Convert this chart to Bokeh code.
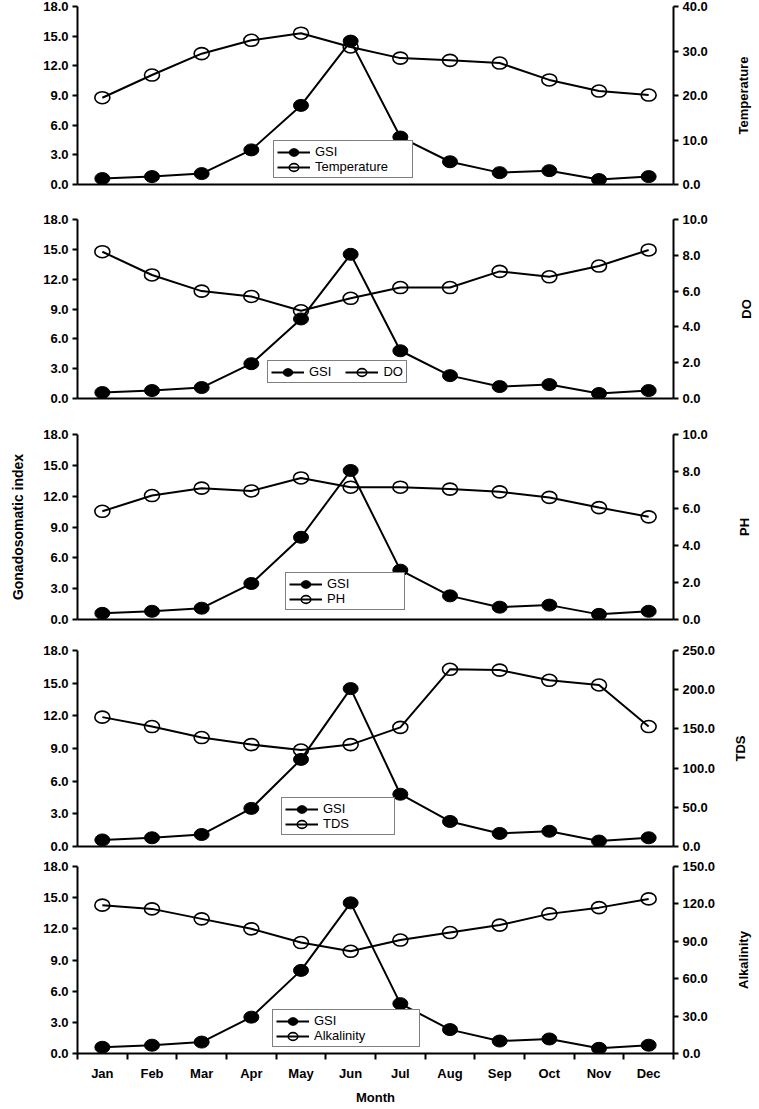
import math
from bokeh.plotting import figure
from bokeh.models import (Range1d, LinearAxis, FixedTicker, PrintfTickFormatter,
                          Legend, LegendItem, Label)
from bokeh.layouts import column, row
from bokeh.embed import file_html
from bokeh.resources import INLINE

# ---------------- data ----------------
months = ["Jan", "Feb", "Mar", "Apr", "May", "Jun",
          "Jul", "Aug", "Sep", "Oct", "Nov", "Dec"]
gsi = [0.6, 0.8, 1.1, 3.5, 8.0, 14.5, 4.8, 2.3, 1.2, 1.4, 0.5, 0.8]
temperature = [19.5, 24.6, 29.4, 32.4, 34.0, 30.9, 28.4, 27.9, 27.3, 23.5, 21.0, 20.1]
do_vals = [8.2, 6.9, 6.0, 5.7, 4.9, 5.6, 6.2, 6.2, 7.1, 6.8, 7.4, 8.3]
ph = [5.85, 6.7, 7.1, 6.95, 7.65, 7.15, 7.15, 7.05, 6.9, 6.6, 6.05, 5.55]
tds = [165, 153, 139, 130, 123, 130, 152, 226, 225, 212, 206, 153]
alkalinity = [119, 116, 108, 100, 89, 82, 91, 97, 103, 112, 117, 124]

gsi_ticks = [0, 3, 6, 9, 12, 15, 18]
param_names = ["Temperature", "DO", "PH", "TDS", "Alkalinity"]
param_values = [temperature, do_vals, ph, tds, alkalinity]
param_ticks = [[0, 10, 20, 30, 40],
               [0, 2, 4, 6, 8, 10],
               [0, 2, 4, 6, 8, 10],
               [0, 50, 100, 150, 200, 250],
               [0, 30, 60, 90, 120, 150]]

# ---------------- layout / style ----------------
FONT = "Liberation Sans"
FRAME_W = 596
# (border_top, frame_height, border_bottom)
geom = [(6, 178, 27), (8, 179, 28), (8, 185, 23), (8, 196, 12), (8, 187, 50)]
# legend: (left offset, bottom gap, orientation, label_width, spacing)
leg_cfg = [(196, 6, "vertical", 94, 0),
           (190, 15, "horizontal", 20, 14),
           (208, 9, "vertical", 74, 0),
           (204, 11, "vertical", 68, 0),
           (195, 6, "vertical", 102, 0)]
LAB_W = 28
right_label_x = [14, 17, 15, 11, 14]

x = [i + 0.5 for i in range(len(months))]


def style_axis(ax):
    ax.axis_line_width = 2
    ax.axis_line_color = "black"
    ax.major_tick_line_width = 2
    ax.major_tick_in = 0
    ax.major_tick_out = 5
    ax.minor_tick_line_color = None
    ax.major_label_text_font = FONT
    ax.major_label_text_font_style = "bold"
    ax.major_label_text_font_size = "13px"
    ax.major_label_text_color = "black"
    ax.major_label_standoff = 4
    ax.axis_label_text_font = FONT
    ax.axis_label_text_font_style = "bold"
    ax.axis_label_text_font_size = "13px"
    ax.axis_label_text_color = "black"


rows = []
n = len(param_names)
for k in range(n):
    bt, fh, bb = geom[k]
    last = (k == n - 1)
    p = figure(frame_width=FRAME_W, frame_height=fh,
               x_range=Range1d(0, len(months)), y_range=Range1d(0, 18),
               output_backend="svg", toolbar_location=None,
               min_border_left=77, min_border_right=56,
               min_border_top=bt, min_border_bottom=bb,
               background_fill_color="white", border_fill_color="white")
    p.grid.visible = False
    p.outline_line_color = None

    # left axis (GSI)
    ya = p.yaxis[0]
    ya.ticker = FixedTicker(ticks=gsi_ticks)
    ya.formatter = PrintfTickFormatter(format="%.1f")
    style_axis(ya)
    if k == 2:
        ya.axis_label = "Gonadosomatic index"
        ya.axis_label_text_font_size = "14px"
        ya.axis_label_standoff = 14

    # bottom axis
    xa = p.xaxis[0]
    style_axis(xa)
    if last:
        xa.ticker = FixedTicker(ticks=x, minor_ticks=list(range(len(months) + 1)))
        xa.major_label_overrides = {xv: m for xv, m in zip(x, months)}
        xa.major_tick_line_color = None
        xa.major_tick_out = 6
        xa.minor_tick_line_color = "black"
        xa.minor_tick_line_width = 2
        xa.minor_tick_in = 0
        xa.minor_tick_out = 6
        xa.major_label_standoff = 6
        xa.axis_label = "Month"
        xa.axis_label_standoff = 6
    else:
        xa.ticker = FixedTicker(ticks=[])
        xa.major_tick_out = 0
        xa.major_label_standoff = 0

    # right axis (parameter)
    ticks = param_ticks[k]
    p.extra_y_ranges = {"r": Range1d(0, ticks[-1])}
    ra = LinearAxis(y_range_name="r", ticker=FixedTicker(ticks=ticks),
                    formatter=PrintfTickFormatter(format="%.1f"))
    style_axis(ra)
    p.add_layout(ra, "right")

    # parameter series (open circles)
    pl = p.line(x, param_values[k], y_range_name="r", line_color="black", line_width=2)
    pe = p.ellipse(x, param_values[k], width=15, height=12,
                   width_units="screen", height_units="screen",
                   y_range_name="r", fill_color=None,
                   line_color="black", line_width=1.6)
    # GSI series (filled circles)
    gl = p.line(x, gsi, line_color="black", line_width=2)
    ge = p.ellipse(x, gsi, width=15, height=12,
                   width_units="screen", height_units="screen",
                   fill_color="black", line_color="black", line_width=1)

    lx, ly, orient, lw, sp = leg_cfg[k]
    leg = Legend(items=[LegendItem(label="GSI", renderers=[gl, ge]),
                        LegendItem(label=param_names[k], renderers=[pl, pe])],
                 location=(lx, ly), orientation=orient,
                 border_line_color="black", border_line_width=1.5,
                 background_fill_color="white", background_fill_alpha=1.0,
                 padding=3, spacing=sp, margin=0,
                 glyph_width=33, glyph_height=12, label_height=12,
                 label_width=lw, label_standoff=5,
                 label_text_font=FONT, label_text_font_size="13px",
                 label_text_color="black")
    p.add_layout(leg)

    # right-hand title (reads bottom to top) in a narrow companion figure
    q = figure(frame_width=LAB_W, frame_height=fh,
               x_range=Range1d(0, 1), y_range=Range1d(0, 1),
               output_backend="svg", toolbar_location=None,
               x_axis_location=None, y_axis_location=None,
               min_border_left=0, min_border_right=0,
               min_border_top=bt, min_border_bottom=bb,
               background_fill_color="white", border_fill_color="white")
    q.grid.visible = False
    q.outline_line_color = None
    q.add_layout(Label(x=right_label_x[k], y=fh / 2, x_units="screen", y_units="screen",
                       text=param_names[k], angle=math.pi / 2,
                       text_align="center", text_baseline="middle",
                       text_font=FONT, text_font_style="bold",
                       text_font_size="13px", text_color="black"))
    rows.append(row(p, q, spacing=0))

layout = column(*rows, spacing=0)
open("out.html", "w").write(file_html(layout, INLINE))
